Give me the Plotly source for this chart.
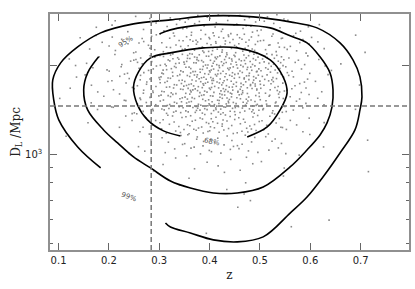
import numpy as np
import plotly.graph_objects as go

# ---------------- data ----------------
# confidence contours (z, D_L [Mpc])
C99_Z = [0.1836, 0.1380, 0.1004, 0.0904, 0.0885, 0.1042, 0.1380, 0.1836, 0.2489, 0.3222,
         0.4015, 0.4866, 0.5599, 0.6134, 0.6590, 0.6847, 0.6986, 0.7026, 0.6986, 0.6887,
         0.6590, 0.6252, 0.5935, 0.5599, 0.5064, 0.4549, 0.4074, 0.3618, 0.3222, 0.3123]
C99_D = [899, 1058, 1306, 1526, 1782, 2035, 2304, 2569, 2755, 2843,
         2932, 2910, 2799, 2671, 2377, 2083, 1824, 1562, 1411, 1208,
         1010, 838, 717, 633, 526, 506, 514, 542, 568, 586]

C95_Z = [0.3004, 0.3222, 0.3876, 0.4549, 0.5203, 0.5599, 0.5935, 0.6193, 0.6391, 0.6451,
         0.6431, 0.6332, 0.6193, 0.5935, 0.5599, 0.5064, 0.4549, 0.4074, 0.3618, 0.3222,
         0.2826, 0.2489, 0.2172, 0.1895, 0.1578, 0.1499, 0.1578, 0.1796]
C95_D = [2549, 2630, 2734, 2734, 2671, 2510, 2377, 2132, 1882, 1649,
         1445, 1276, 1162, 1034, 906, 775, 740, 740, 769, 812,
         899, 979, 1092, 1208, 1411, 1649, 1882, 2132]

C68_Z = [0.3420, 0.3084, 0.2767, 0.2568, 0.2489, 0.2588, 0.2826, 0.3222, 0.3876, 0.4549,
         0.5203, 0.5460, 0.5539, 0.5401, 0.5144, 0.4747]
C68_D = [1153, 1199, 1306, 1467, 1688, 1897, 2115, 2199, 2286, 2286,
         2083, 1824, 1611, 1411, 1236, 1144]

CONTOUR_LABELS = ["68%", "95%", "99%"]
LABEL_Z = [0.405, 0.233, 0.239]
LABEL_D = [1100, 2395, 717]

# reference lines
Z_REF = 0.284
DL_REF = 1456

# sample cloud: number of points per (D_L band, z bin)
Z_EDGES = [0.10, 0.15, 0.20, 0.25, 0.30, 0.35, 0.40, 0.45, 0.50, 0.55, 0.60, 0.65, 0.70, 0.75]
DL_EDGES = [2970, 2550, 2180, 1870, 1600, 1370, 1170, 1000, 860, 735, 630, 540]
COUNTS = [
    [0, 1, 3, 4, 7, 10, 11, 10, 7, 4, 1, 0, 0],
    [1, 3, 6, 9, 14, 20, 22, 20, 14, 8, 3, 1, 1],
    [2, 4, 7, 12, 24, 32, 35, 32, 22, 10, 3, 1, 0],
    [2, 4, 7, 13, 26, 35, 38, 34, 22, 10, 3, 1, 0],
    [1, 3, 6, 12, 22, 30, 33, 28, 18, 8, 2, 1, 0],
    [0, 1, 3, 7, 13, 18, 20, 16, 10, 5, 1, 0, 0],
    [1, 0, 1, 3, 6, 10, 10, 8, 6, 2, 1, 0, 1],
    [0, 0, 0, 1, 2, 3, 3, 3, 2, 1, 0, 0, 1],
    [0, 0, 0, 0, 1, 1, 1, 1, 1, 0, 0, 0, 0],
    [0, 0, 0, 0, 0, 0, 0, 3, 0, 0, 0, 0, 0],
    [0, 0, 0, 0, 0, 1, 0, 0, 0, 1, 1, 0, 0],
]

X_TICKS = [0.1, 0.2, 0.3, 0.4, 0.5, 0.6, 0.7]
Y_MAJOR = [1000, 2000, 3000]
Y_MAJOR_TEXT = ["10<sup>3</sup>", "", ""]
Y_MINOR = [500, 600, 700, 800, 900]


# ---------------- spread each cell's count over the cell ----------------
def halton(i, b):
    f, r = 1.0, 0.0
    while i > 0:
        f /= b
        r += f * (i % b)
        i //= b
    return r


pz, pd = [], []
idx = 1
for r, row in enumerate(COUNTS):
    ld_hi, ld_lo = np.log10(DL_EDGES[r]), np.log10(DL_EDGES[r + 1])
    for c, n in enumerate(row):
        z_lo, z_hi = Z_EDGES[c], Z_EDGES[c + 1]
        for k in range(n):
            u = halton(idx, 2)
            v = halton(idx, 3)
            idx += 1
            pz.append(z_lo + u * (z_hi - z_lo))
            pd.append(10 ** (ld_lo + v * (ld_hi - ld_lo)))

fig = go.Figure()
fig.add_trace(go.Scatter(x=pz, y=pd, mode="markers",
                         marker=dict(symbol="square", size=1.6, color="#8a8a8a", line=dict(width=0)),
                         hoverinfo="skip", showlegend=False))

fig.add_hline(y=DL_REF, line=dict(color="#777777", width=1.5, dash="5px,3px"))
fig.add_vline(x=Z_REF, line=dict(color="#777777", width=1.5, dash="5px,3px"))

for zz, dd in [(C99_Z, C99_D), (C95_Z, C95_D), (C68_Z, C68_D)]:
    fig.add_trace(go.Scatter(x=zz, y=dd, mode="lines",
                             line=dict(color="black", width=1.6, shape="spline", smoothing=1.0),
                             hoverinfo="skip", showlegend=False))

angles = [12, -32, 20]
for t, zx, dy, ang in zip(CONTOUR_LABELS, LABEL_Z, LABEL_D, angles):
    fig.add_annotation(x=zx, y=np.log10(dy), text=t, showarrow=False, textangle=ang,
                       font=dict(family="DejaVu Sans", size=7, color="#555555"))

fig.update_layout(
    width=415, height=289,
    margin=dict(l=50, r=6, t=14, b=39),
    paper_bgcolor="white", plot_bgcolor="white",
    font=dict(family="DejaVu Sans", size=10, color="#222222"),
)
fig.update_xaxes(
    range=[0.083, 0.796], tickvals=X_TICKS, ticktext=[str(v) for v in X_TICKS],
    ticks="inside", ticklen=7, tickwidth=1, tickcolor="#666666",
    showline=True, linecolor="#909090", linewidth=1.5, mirror="allticks",
    showgrid=False, zeroline=False, automargin=False,
    tickfont=dict(family="DejaVu Sans", size=10, color="#222222"),
    title=dict(text="z", font=dict(family="DejaVu Serif", size=12, color="#222222"), standoff=6),
)
fig.update_yaxes(
    type="log", range=[np.log10(475), np.log10(2975)],
    tickvals=Y_MAJOR, ticktext=Y_MAJOR_TEXT,
    ticks="inside", ticklen=7, tickwidth=1, tickcolor="#666666",
    minor=dict(tickvals=Y_MINOR, ticks="inside", ticklen=3.5, tickcolor="#666666", showgrid=False),
    showline=True, linecolor="#909090", linewidth=1.5, mirror="allticks",
    showgrid=False, zeroline=False, automargin=False, ticklabelstandoff=4,
    tickfont=dict(family="DejaVu Sans", size=10, color="#222222"),
    title=dict(text="D<sub>L</sub> /Mpc", font=dict(family="DejaVu Serif", size=12, color="#222222"), standoff=2),
)

fig.write_html("out.html", config={"displayModeBar": False},
               post_script="document.body.style.margin='0';")
